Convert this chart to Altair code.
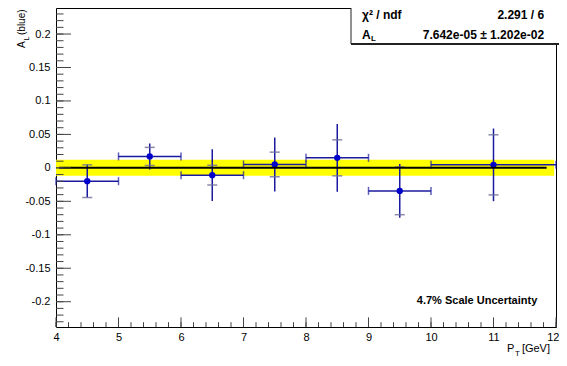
import altair as alt
import pandas as pd
import numpy as np

# ---- data ----
pt = [4.5, 5.5, 6.5, 7.5, 8.5, 9.5, 11.0]
pt_lo = [4.0, 5.0, 6.0, 7.0, 8.0, 9.0, 10.0]
pt_hi = [5.0, 6.0, 7.0, 8.0, 9.0, 10.0, 12.0]
al = [-0.0199, 0.0171, -0.0109, 0.0051, 0.0150, -0.0344, 0.0045]
err_outer = [0.0244, 0.0195, 0.0386, 0.0404, 0.0506, 0.0400, 0.0543]
err_inner = [0.0244, 0.0135, 0.0147, 0.0184, 0.0269, 0.0356, 0.0449]

fit_value = 7.642e-05
fit_error = 1.202e-02
fit_line_range = [4.05, 11.85]
fit_band_range = [4.0, 11.97]

x_major = [4, 5, 6, 7, 8, 9, 10, 11, 12]
y_major = [-0.2, -0.15, -0.1, -0.05, 0, 0.05, 0.1, 0.15, 0.2]
X_DOM = [4, 12]
Y_DOM = [-0.2378, 0.2389]

stat_rows = ["χ² / ndf", "A"]
stat_vals = ["2.291 / 6", "7.642e-05 ± 1.202e-02"]
scale_note = "4.7% Scale Uncertainty"

W, H = 500, 319
FONT = "Liberation Sans"

df = pd.DataFrame({
    "pt": pt, "lo": pt_lo, "hi": pt_hi, "al": al,
    "o1": [a - e for a, e in zip(al, err_outer)],
    "o2": [a + e for a, e in zip(al, err_outer)],
    "i1": [a - e for a, e in zip(al, err_inner)],
    "i2": [a + e for a, e in zip(al, err_inner)],
})
caps_x = pd.DataFrame({"x": pt_lo + pt_hi, "y": al + al})
caps_y = pd.DataFrame({"x": pt + pt, "y": list(df.i1) + list(df.i2)})

xs = alt.Scale(domain=X_DOM, nice=False, zero=False)
ys = alt.Scale(domain=Y_DOM, nice=False, zero=False)
xaxis = alt.Axis(values=x_major, title=None, domain=False, ticks=False, tickSize=0,
                 grid=False, labelFont=FONT, labelFontSize=11, labelPadding=4,
                 labelColor="black", labelFlush=True, labelFlushOffset=3,
                 labelOverlap=False)
yaxis = alt.Axis(values=y_major, title=None, domain=False, ticks=False, tickSize=0,
                 grid=False, labelFont=FONT, labelFontSize=11, labelPadding=6,
                 labelColor="black", labelOverlap=False,
                 labelExpr="toString(datum.value)")


def X(f, **k):
    return alt.X(f, type="quantitative", scale=xs, axis=xaxis, **k)


def Y(f, **k):
    return alt.Y(f, type="quantitative", scale=ys, axis=yaxis, **k)


base = alt.Chart(df)

band_df = pd.DataFrame({"x1": [fit_band_range[0]], "x2": [fit_band_range[1]],
                        "y1": [fit_value - fit_error], "y2": [fit_value + fit_error]})
band = alt.Chart(band_df).mark_rect(color="#ffff00").encode(
    x=X("x1"), x2="x2", y=Y("y1"), y2="y2")

vert = base.mark_rule(color="#1a1aa0", strokeWidth=1.5).encode(x=X("pt"), y=Y("o1"), y2="o2")
horiz = base.mark_rule(color="#1a1aa0", strokeWidth=1.5).encode(x=X("lo"), x2="hi", y=Y("al"))
hcaps = alt.Chart(caps_x).mark_tick(orient="vertical", size=8, thickness=1.5,
                                    color="#1a1aa0").encode(x=X("x"), y=Y("y"))
gcaps = alt.Chart(caps_y).mark_tick(orient="horizontal", size=10, thickness=1.5,
                                    color="#6d6d9a", opacity=0.8).encode(x=X("x"), y=Y("y"))
marks = base.mark_circle(size=40, color="#0000cc", opacity=1).encode(x=X("pt"), y=Y("al"))

fit_df = pd.DataFrame({"x1": [fit_line_range[0]], "x2": [fit_line_range[1]], "y": [fit_value]})
fitline = alt.Chart(fit_df).mark_rule(color="black", strokeWidth=2).encode(
    x=X("x1"), x2="x2", y=Y("y"))

# inward axis ticks (ROOT style)
ymin_ticks = pd.DataFrame({"v": [round(v, 2) for v in np.arange(-0.23, 0.2301, 0.01)]})
ymaj_ticks = pd.DataFrame({"v": y_major})
xmin_ticks = pd.DataFrame({"v": [round(v, 1) for v in np.arange(4.0, 12.001, 0.2)]})
xmaj_ticks = pd.DataFrame({"v": x_major})
tick_col = "#444444"
yt_min = alt.Chart(ymin_ticks).mark_rule(color=tick_col, strokeWidth=1).encode(
    x=alt.value(0), x2=alt.value(7.5), y=Y("v"))
yt_maj = alt.Chart(ymaj_ticks).mark_rule(color=tick_col, strokeWidth=1).encode(
    x=alt.value(0), x2=alt.value(15), y=Y("v"))
xt_min = alt.Chart(xmin_ticks).mark_rule(color=tick_col, strokeWidth=1).encode(
    y=alt.value(H), y2=alt.value(H - 4.8), x=X("v"))
xt_maj = alt.Chart(xmaj_ticks).mark_rule(color=tick_col, strokeWidth=1).encode(
    y=alt.value(H), y2=alt.value(H - 9.6), x=X("v"))

# stats box
box_df = pd.DataFrame({"x1": [8.72], "x2": [12.4], "y1": [0.1851], "y2": [0.27]})
box = alt.Chart(box_df).mark_rect(fill="white", stroke="#222222", strokeWidth=1).encode(
    x=X("x1"), x2="x2", y=Y("y1"), y2="y2")
box_shadow = alt.Chart(box_df).mark_rule(color="#222222", strokeWidth=2).encode(
    x=X("x1"), x2="x2", y=Y("y1"))
st_df = pd.DataFrame({"label": stat_rows, "val": stat_vals, "y": [0.2290, 0.1986],
                      "xl": [8.896, 8.896], "xr": [11.81, 11.81]})
st_left = alt.Chart(st_df).mark_text(align="left", baseline="middle", font=FONT,
                                     fontSize=12, fontWeight="bold", color="black").encode(
    x=X("xl"), y=Y("y"), text="label")
st_right = alt.Chart(st_df).mark_text(align="right", baseline="middle", font=FONT,
                                      fontSize=12, fontWeight="bold", color="black").encode(
    x=X("xr"), y=Y("y"), text="val")
sub_df = pd.DataFrame({"t": ["L"], "x": [8.896], "y": [0.1986]})
st_sub = alt.Chart(sub_df).mark_text(align="left", baseline="middle", font=FONT,
                                     fontSize=8, fontWeight="bold", color="black",
                                     dx=9, dy=4).encode(x=X("x"), y=Y("y"), text="t")

note_df = pd.DataFrame({"t": [scale_note], "x": [11.7], "y": [-0.1989]})
note = alt.Chart(note_df).mark_text(align="right", baseline="middle", font=FONT,
                                    fontSize=11, fontWeight="bold", color="black").encode(
    x=X("x"), y=Y("y"), text="t")

# axis titles (with subscripts)
def label(txt, x, y, size=11, angle=0, align="left", baseline="alphabetic"):
    kw = dict(align=align, baseline=baseline, font=FONT, fontSize=size, color="black")
    if angle:
        kw["angle"] = angle
    return alt.Chart(pd.DataFrame({"t": [txt]})).mark_text(**kw).encode(
        x=alt.value(x), y=alt.value(y), text="t")

xt1 = label("P", 451, 344)
xt2 = label("T", 459, 348, size=8)
xt3 = label("[GeV]", 494, 344, align="right")
yt1 = label("A", -31, 40, size=10, angle=270, align="left")
yt2 = label("L", -27.5, 32.5, size=7, angle=270, align="left")
yt3 = label("(blue)", -31, 27, size=10, angle=270, align="left")

chart = alt.layer(
    band, vert, horiz, hcaps, gcaps, marks, fitline,
    yt_min, yt_maj, xt_min, xt_maj,
    box, box_shadow, st_left, st_right, st_sub, note,
    xt1, xt2, xt3, yt1, yt2, yt3,
).properties(
    width=W, height=H,
    padding={"left": 48, "top": 0, "right": 3, "bottom": 31},
    autosize=alt.AutoSizeParams(type="none"),
).configure_view(stroke="black", strokeWidth=1)

chart.save("out.html", embed_options={"renderer": "svg", "actions": False})
